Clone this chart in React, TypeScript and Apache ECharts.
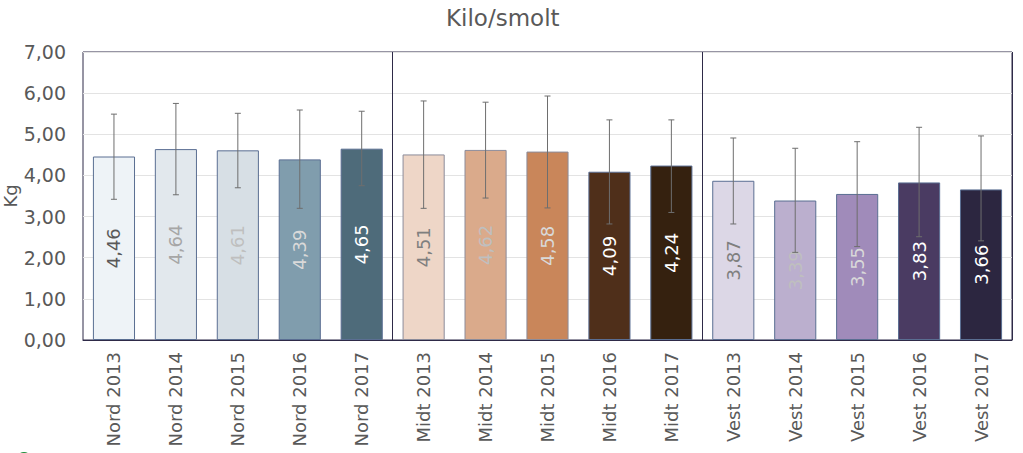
import React, { useEffect, useRef } from "react";
import * as echarts from "echarts";

const categories = [
  "Nord 2013", "Nord 2014", "Nord 2015", "Nord 2016", "Nord 2017",
  "Midt 2013", "Midt 2014", "Midt 2015", "Midt 2016", "Midt 2017",
  "Vest 2013", "Vest 2014", "Vest 2015", "Vest 2016", "Vest 2017",
];
const values = [4.46, 4.64, 4.61, 4.39, 4.65, 4.51, 4.62, 4.58, 4.09, 4.24, 3.87, 3.39, 3.55, 3.83, 3.66];
const errLow = [3.42, 3.53, 3.70, 3.20, 3.75, 3.20, 3.45, 3.21, 2.82, 3.10, 2.82, 2.13, 2.27, 2.51, 2.41];
const errHigh = [5.49, 5.75, 5.51, 5.59, 5.56, 5.81, 5.78, 5.93, 5.35, 5.35, 4.91, 4.66, 4.82, 5.17, 4.96];
const barColors = [
  "#EEF3F7", "#E2E8ED", "#D7DFE5", "#809DAD", "#4E6B7A",
  "#EED6C7", "#DAAA8B", "#C9865A", "#4F2F1A", "#35210F",
  "#DCD7E6", "#BBAFCE", "#A08BBA", "#4A3B62", "#2C2640",
];
const labelColors = [
  "#595959", "#A6A6A6", "#BFBFBF", "#D9D9D9", "#FFFFFF",
  "#7F7F7F", "#BFBFBF", "#D9D9D9", "#FFFFFF", "#FFFFFF",
  "#7F7F7F", "#BFBFBF", "#D9D9D9", "#FFFFFF", "#FFFFFF",
];
const yTicks = [0, 1, 2, 3, 4, 5, 6, 7];

const FONT = "DejaVu Sans";
const TEXT = "#595959";
const FRAME = "#2E2A48";

export default function App() {
  const ref = useRef<HTMLDivElement>(null);
  useEffect(() => {
    if (!ref.current) return;
    const chart = echarts.init(ref.current, null, { renderer: "svg" });
    const fmt = (v: number) => v.toFixed(2).replace(".", ",");
    chart.setOption({
      animation: false,
      backgroundColor: "#FFFFFF",
      title: {
        text: "Kilo/smolt",
        left: 446,
        top: 6,
        padding: 0,
        textStyle: { fontFamily: FONT, fontSize: 23, fontWeight: "normal", color: TEXT },
      },
      grid: {
        left: 83,
        right: 11,
        top: 52,
        bottom: 113,
        show: true,
        borderColor: FRAME,
        borderWidth: 1,
        containLabel: false,
        outerBoundsMode: "none",
      },
      xAxis: {
        type: "category",
        data: categories,
        axisLine: { show: true, lineStyle: { color: FRAME } },
        axisTick: { show: false },
        axisLabel: {
          rotate: 90,
          interval: 0,
          fontFamily: FONT,
          fontSize: 18,
          color: TEXT,
          margin: 12,
        },
        splitLine: {
          show: true,
          interval: (i: number) => i === 5 || i === 10,
          lineStyle: { color: FRAME, width: 1 },
        },
      },
      yAxis: {
        type: "value",
        min: yTicks[0],
        max: yTicks[yTicks.length - 1],
        interval: 1,
        name: "Kg",
        nameLocation: "middle",
        nameGap: 64,
        nameMoveOverlap: false,
        nameTextStyle: { fontFamily: FONT, fontSize: 18, color: TEXT },
        axisLine: { show: false },
        axisTick: { show: false },
        axisLabel: {
          fontFamily: FONT,
          fontSize: 19,
          color: TEXT,
          margin: 17,
          formatter: (v: number) => fmt(v),
        },
        splitLine: { show: true, lineStyle: { color: "#E3E3E3", width: 1 } },
      },
      series: [
        {
          type: "bar",
          barCategoryGap: "32%",
          data: values.map((v, i) => ({
            value: v,
            itemStyle: {
              color: barColors[i],
              borderColor: i >= 5 && i <= 7 ? "#8C8C9A" : "#5A6E92",
              borderWidth: 1,
            },
            label: { color: labelColors[i] },
          })),
          label: {
            show: true,
            position: "inside",
            rotate: 90,
            fontFamily: FONT,
            fontSize: 18,
            formatter: (p: any) => fmt(p.value),
          },
        },
        {
          type: "custom",
          data: categories.map((_, i) => [i, errLow[i], errHigh[i]]),
          renderItem: (params: any, api: any) => {
            const x = api.value(0);
            const lo = api.coord([x, api.value(1)]);
            const hi = api.coord([x, api.value(2)]);
            const cap = 3;
            const style = { stroke: "#6E6E6E", lineWidth: 1 };
            return {
              type: "group",
              children: [
                { type: "line", shape: { x1: lo[0], y1: lo[1], x2: hi[0], y2: hi[1] }, style },
                { type: "line", shape: { x1: lo[0] - cap, y1: lo[1], x2: lo[0] + cap, y2: lo[1] }, style },
                { type: "line", shape: { x1: hi[0] - cap, y1: hi[1], x2: hi[0] + cap, y2: hi[1] }, style },
              ],
            };
          },
          z: 10,
        },
      ],
      graphic: [
        {
          type: "circle",
          shape: { cx: 24, cy: 460, r: 8 },
          style: { fill: "#1E8C3C" },
        },
      ],
    });
    return () => chart.dispose();
  }, []);
  return (
    <div
      ref={ref}
      style={{ position: "absolute", left: 0, top: 0, width: 1023, height: 453 }}
    />
  );
}
